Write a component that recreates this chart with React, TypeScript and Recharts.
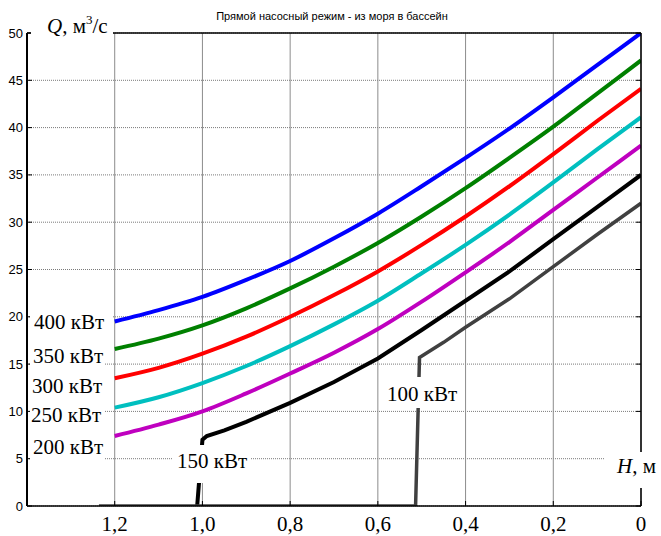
import { LineChart, Line, XAxis, YAxis, CartesianGrid } from 'recharts';

// H, m (head) and Q, m3/s values
const H_MAIN = [1.2, 1.1, 1.0, 0.9, 0.8, 0.7, 0.6, 0.5, 0.4, 0.3, 0.2, 0.1, 0];
const Q_400 = [19.5, 20.7, 22.1, 23.9, 25.9, 28.3, 30.9, 33.8, 36.8, 39.9, 43.2, 46.6, 50.0];
const Q_350 = [16.6, 17.7, 19.1, 20.9, 23.0, 25.3, 27.8, 30.6, 33.6, 36.8, 40.1, 43.6, 47.1];
const Q_300 = [13.5, 14.6, 16.1, 17.9, 20.0, 22.3, 24.8, 27.6, 30.6, 33.8, 37.2, 40.7, 44.1];
const Q_250 = [10.4, 11.5, 13.0, 14.8, 16.9, 19.2, 21.7, 24.6, 27.6, 30.8, 34.2, 37.7, 41.1];
const Q_200 = [7.4, 8.6, 10.0, 11.9, 14.0, 16.2, 18.7, 21.6, 24.7, 27.9, 31.3, 34.7, 38.1];

const H_150 = [1.012, 1.0, 0.99, 0.95, 0.9, 0.8, 0.7, 0.6, 0.5, 0.4, 0.3, 0.2, 0.1, 0];
const Q_150 = [0, 7.0, 7.4, 8.0, 8.9, 10.9, 13.1, 15.6, 18.6, 21.7, 24.8, 28.2, 31.6, 35.0];

const H_100 = [1.236, 0.514, 0.505, 0.45, 0.4, 0.3, 0.2, 0.1, 0];
const Q_100 = [0, 0, 15.7, 17.3, 18.9, 21.9, 25.3, 28.7, 32.0];

const X_TICKS = [1.2, 1.0, 0.8, 0.6, 0.4, 0.2, 0];
const Y_TICKS = [0, 5, 10, 15, 20, 25, 30, 35, 40, 45, 50];

const toPoints = (hs: number[], qs: number[]) => hs.map((h, i) => ({ h, q: qs[i] }));

const SERIES = [
  { key: '400', color: '#0000ff', width: 4, curve: 'monotone', data: toPoints(H_MAIN, Q_400) },
  { key: '350', color: '#008000', width: 4, curve: 'monotone', data: toPoints(H_MAIN, Q_350) },
  { key: '300', color: '#ff0000', width: 4, curve: 'monotone', data: toPoints(H_MAIN, Q_300) },
  { key: '250', color: '#00bfbf', width: 4, curve: 'monotone', data: toPoints(H_MAIN, Q_250) },
  { key: '200', color: '#bf00bf', width: 4, curve: 'monotone', data: toPoints(H_MAIN, Q_200) },
  { key: '150', color: '#000000', width: 4, curve: 'linear', data: toPoints(H_150, Q_150) },
  { key: '100', color: '#404040', width: 3.5, curve: 'linear', data: toPoints(H_100, Q_100) },
];

const SERIF = '"Liberation Serif", "Times New Roman", serif';
const SANS = '"Liberation Sans", Arial, sans-serif';

const fmtH = (v: number) => (v === 0 ? '0' : v.toFixed(1).replace('.', ','));

// custom ticks: labels outside, short tick marks pointing into the plot
const BottomTick = ({ x, y, payload }: any) => (
  <g>
    <line x1={x} y1={y} x2={x} y2={y - 5} stroke="#000" />
    <text x={x} y={y + 25} textAnchor="middle" fontFamily={SERIF} fontSize={21} fill="#000">
      {fmtH(payload.value)}
    </text>
  </g>
);

const TopTick = ({ x, y }: any) => <line x1={x} y1={y} x2={x} y2={y + 5} stroke="#000" />;

const LeftTick = ({ x, y, payload }: any) => (
  <g>
    <line x1={x} y1={y} x2={x + 5} y2={y} stroke="#000" />
    <text x={x - 4} y={y + 4.5} textAnchor="end" fontFamily={SANS} fontSize={13} fill="#000">
      {payload.value}
    </text>
  </g>
);

const RightTick = ({ x, y }: any) => <line x1={x} y1={y} x2={x - 5} y2={y} stroke="#000" />;

// labels with white boxes drawn over the chart
const LABELS = [
  { text: '400 кВт', x: 34, y: 329, box: [30, 304, 82, 30] },
  { text: '350 кВт', x: 33, y: 363, box: [30, 340, 74, 30] },
  { text: '300 кВт', x: 32, y: 393, box: [30, 371, 74, 29] },
  { text: '250 кВт', x: 31, y: 422, box: [30, 401, 74, 28] },
  { text: '200 кВт', x: 33, y: 454, box: [30, 432, 74, 30] },
  { text: '150 кВт', x: 177, y: 468, box: [172, 445, 78, 38] },
  { text: '100 кВт', x: 387, y: 401, box: [384, 377, 75, 31] },
];

export default function App() {
  return (
    <div style={{ position: 'absolute', left: 0, top: 0, width: 661, height: 536, background: '#fff' }}>
      <LineChart width={661} height={536} margin={{ top: 32, right: 19, bottom: 0, left: 0 }}>
        <CartesianGrid vertical={false} stroke="#7a7a7a" strokeDasharray="1 1" />
        <CartesianGrid horizontal={false} stroke="#8c8c8c" />
        <XAxis
          dataKey="h"
          type="number"
          domain={[0, 1.4]}
          reversed
          ticks={X_TICKS}
          interval={0}
          height={30}
          tickSize={0}
          tickMargin={0}
          tickLine={false}
          axisLine={{ stroke: '#000', strokeWidth: 1.5 }}
          tick={<BottomTick />}
          allowDataOverflow
        />
        <XAxis
          xAxisId="top"
          orientation="top"
          type="number"
          domain={[0, 1.4]}
          reversed
          ticks={X_TICKS}
          interval={0}
          height={1}
          tickSize={0}
          tickMargin={0}
          tickLine={false}
          axisLine={{ stroke: '#000', strokeWidth: 1.5 }}
          tick={<TopTick />}
          allowDataOverflow
        />
        <YAxis
          type="number"
          domain={[0, 50]}
          ticks={Y_TICKS}
          interval={0}
          width={27}
          tickSize={0}
          tickMargin={0}
          tickLine={false}
          axisLine={{ stroke: '#000', strokeWidth: 2 }}
          tick={<LeftTick />}
          allowDataOverflow
        />
        <YAxis
          yAxisId="right"
          orientation="right"
          type="number"
          domain={[0, 50]}
          ticks={Y_TICKS}
          interval={0}
          width={1}
          tickSize={0}
          tickMargin={0}
          tickLine={false}
          axisLine={{ stroke: '#000', strokeWidth: 1.5 }}
          tick={<RightTick />}
          allowDataOverflow
        />
        {SERIES.map((s) => (
          <Line
            key={s.key}
            data={s.data}
            dataKey="q"
            type={s.curve as any}
            stroke={s.color}
            strokeWidth={s.width}
            dot={false}
            activeDot={false}
            isAnimationActive={false}
          />
        ))}
      </LineChart>
      <svg width={661} height={536} style={{ position: 'absolute', left: 0, top: 0, pointerEvents: 'none' }}>
        <text x={332} y={20} textAnchor="middle" fontFamily={SANS} fontSize={11} fill="#000">
          Прямой насосный режим - из моря в бассейн
        </text>
        <rect x={31} y={8} width={82} height={28} fill="#fff" />
        <text x={47} y={33} fontFamily={SERIF} fontSize={21} fill="#000">
          <tspan fontStyle="italic">Q</tspan>, м<tspan dy={-9} fontSize={13}>3</tspan>
          <tspan dy={9}>/с</tspan>
        </text>
        <rect x={605} y={452} width={56} height={36} fill="#fff" />
        <text x={617} y={473} fontFamily={SERIF} fontSize={21} fill="#000">
          <tspan fontStyle="italic">H</tspan>, м
        </text>
        {LABELS.map((l) => (
          <g key={l.text}>
            <rect x={l.box[0]} y={l.box[1]} width={l.box[2]} height={l.box[3]} fill="#fff" />
            <text x={l.x} y={l.y} fontFamily={SERIF} fontSize={21} fill="#000">
              {l.text}
            </text>
          </g>
        ))}
      </svg>
    </div>
  );
}
